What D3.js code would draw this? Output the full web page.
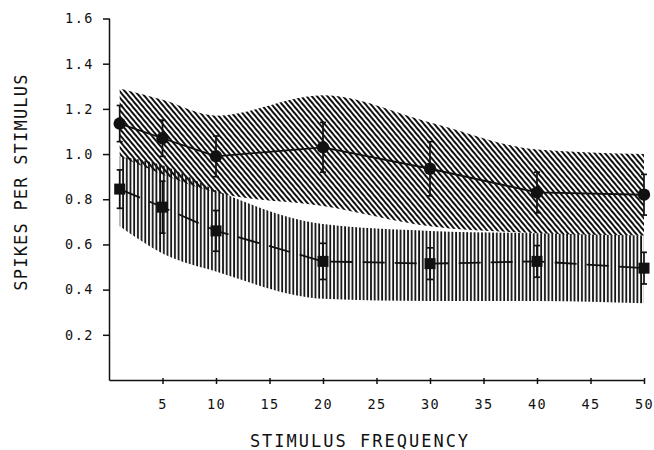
<!DOCTYPE html>
<html>
<head>
<meta charset="utf-8">
<script src="https://cdn.jsdelivr.net/npm/d3@7"></script>
<style>
  body { margin: 0; background: #fff; }
  text { font-family: "DejaVu Sans Mono", monospace; fill: #111; }
</style>
</head>
<body>
<div id="chart-area"></div>
<script>
// data
let freqs = [1, 5, 10, 20, 30, 40, 50];
let circleMean = [1.135, 1.07, 0.99, 1.03, 0.935, 0.83, 0.82];
let circleErr = [0.08, 0.08, 0.09, 0.11, 0.12, 0.09, 0.09];
let squareMean = [0.845, 0.765, 0.66, 0.525, 0.515, 0.525, 0.495];
let squareErr = [0.085, 0.115, 0.09, 0.08, 0.07, 0.07, 0.07];
let upperTop = [1.29, 1.24, 1.17, 1.26, 1.14, 1.02, 1.0];
let upperBot = [0.99, 0.91, 0.83, 0.77, 0.68, 0.65, 0.64];
let lowerTop = [0.99, 0.95, 0.84, 0.69, 0.66, 0.65, 0.64];
let lowerBot = [0.68, 0.56, 0.48, 0.36, 0.35, 0.35, 0.34];
let xTicks = [5, 10, 15, 20, 25, 30, 35, 40, 45, 50];
let yTicks = [0.2, 0.4, 0.6, 0.8, 1.0, 1.2, 1.4, 1.6];

let width = 654, height = 450;

let svg = d3.select("#chart-area")
  .append("svg")
  .attr("width", width)
  .attr("height", height);

// Scales
let x = d3.scaleLinear().domain([0, 50]).range([109, 644]);
let y = d3.scaleLinear().domain([0, 1.6]).range([380, 18.5]);

// hatch patterns
let defs = svg.append("defs");
defs.append("pattern")
  .attr("id", "diag")
  .attr("patternUnits", "userSpaceOnUse")
  .attr("width", 4).attr("height", 10)
  .attr("patternTransform", "rotate(-40)")
  .append("line")
  .attr("x1", 1).attr("x2", 1).attr("y1", 0).attr("y2", 10)
  .attr("stroke", "#111").attr("stroke-width", 2);

defs.append("pattern")
  .attr("id", "vert")
  .attr("patternUnits", "userSpaceOnUse")
  .attr("width", 3.7).attr("height", 10)
  .append("line")
  .attr("x1", 1).attr("x2", 1).attr("y1", 0).attr("y2", 10)
  .attr("stroke", "#111").attr("stroke-width", 1.8);

// bands
let band = (top, bot) => d3.area()
  .x((d, i) => x(freqs[i]))
  .y0((d, i) => y(bot[i]))
  .y1((d, i) => y(top[i]))
  .curve(d3.curveMonotoneX);

svg.append("path")
  .datum(freqs)
  .attr("d", band(lowerTop, lowerBot))
  .attr("fill", "url(#vert)");

svg.append("path")
  .datum(freqs)
  .attr("d", band(upperTop, upperBot))
  .attr("fill", "url(#diag)");

// axes
let xAxis = d3.axisBottom(x).tickValues(xTicks).tickSize(4).tickPadding(15).tickSizeOuter(0);
let yAxis = d3.axisLeft(y).tickValues(yTicks).tickSize(6).tickPadding(9)
  .tickFormat(d3.format(".1f")).tickSizeOuter(0);

let gx = svg.append("g")
  .attr("class", "axis x-axis")
  .attr("transform", "translate(0," + y(0) + ")")
  .call(xAxis);
gx.selectAll(".tick line").attr("y1", -2);

let gy = svg.append("g")
  .attr("class", "axis y-axis")
  .attr("transform", "translate(" + x(0) + ",0)")
  .call(yAxis);
gy.selectAll(".tick line").attr("x1", 1);

svg.selectAll(".axis path, .axis line")
  .attr("stroke", "#111")
  .attr("stroke-width", 1.5);
svg.selectAll(".axis text")
  .style("font-size", "13.5px")
  .style("letter-spacing", "1.5px")
  .attr("fill", "#111");

// axis labels
svg.append("text")
  .attr("class", "axis-label")
  .attr("x", 360).attr("y", 447)
  .attr("text-anchor", "middle")
  .style("font-size", "17px")
  .style("letter-spacing", "2px")
  .text("STIMULUS FREQUENCY");

svg.append("text")
  .attr("class", "axis-label")
  .attr("transform", "translate(27,182) rotate(-90)")
  .attr("text-anchor", "middle")
  .style("font-size", "17px")
  .style("letter-spacing", "1.2px")
  .text("SPIKES PER STIMULUS");

// lines
let line = vals => d3.line()
  .x((d, i) => x(freqs[i]))
  .y((d, i) => y(vals[i]));

svg.append("path")
  .datum(freqs)
  .attr("d", line(circleMean))
  .attr("fill", "none")
  .attr("stroke", "#111")
  .attr("stroke-width", 1.8);

svg.append("path")
  .datum(freqs)
  .attr("d", line(squareMean))
  .attr("fill", "none")
  .attr("stroke", "#111")
  .attr("stroke-width", 1.8)
  .attr("stroke-dasharray", "22,10");

// error bars
function errorBars(means, errs) {
  let g = svg.append("g");
  freqs.forEach((f, i) => {
    let cx = x(f), lo = y(means[i] - errs[i]), hi = y(means[i] + errs[i]);
    g.append("line").attr("x1", cx).attr("x2", cx).attr("y1", lo).attr("y2", hi);
    g.append("line").attr("x1", cx - 3).attr("x2", cx + 3).attr("y1", lo).attr("y2", lo);
    g.append("line").attr("x1", cx - 3).attr("x2", cx + 3).attr("y1", hi).attr("y2", hi);
  });
  g.selectAll("line").attr("stroke", "#111").attr("stroke-width", 1.7);
}
errorBars(circleMean, circleErr);
errorBars(squareMean, squareErr);

// markers
svg.selectAll(".dot")
  .data(freqs)
  .enter()
  .append("circle")
  .attr("class", "dot")
  .attr("cx", d => x(d))
  .attr("cy", (d, i) => y(circleMean[i]))
  .attr("r", 6.2)
  .attr("fill", "#111");

svg.selectAll(".sq")
  .data(freqs)
  .enter()
  .append("rect")
  .attr("class", "sq")
  .attr("x", d => x(d) - 5.5)
  .attr("y", (d, i) => y(squareMean[i]) - 5.5)
  .attr("width", 11)
  .attr("height", 11)
  .attr("fill", "#111");
</script>
</body>
</html>
